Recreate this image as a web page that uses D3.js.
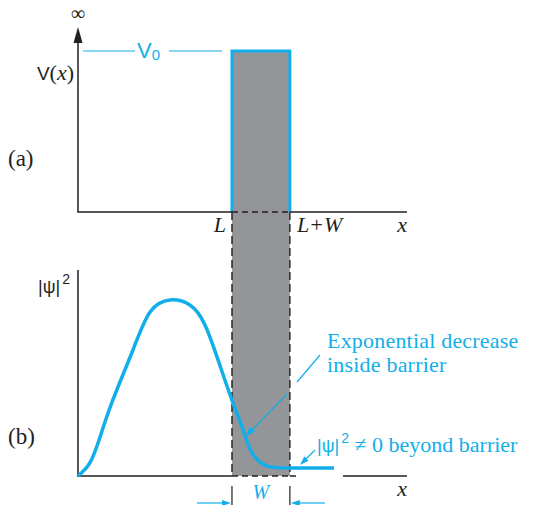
<!DOCTYPE html>
<html>
<head>
<meta charset="utf-8">
<script src="https://cdn.jsdelivr.net/npm/d3@7"></script>
<style>
  body { margin: 0; background: #fff; }
  .serif { font-family: "Liberation Serif", "Times New Roman", serif; }
  .sans { font-family: "Liberation Sans", Arial, sans-serif; }
</style>
</head>
<body>
<script>
// data, in x units of the axis (0..10) and relative heights (0..1)
var xDomain = [0, 10];
var barrierEdges = [4.68, 6.44];          // L, L+W
var V0 = 1;
var psiX = [0, 0.36, 0.67, 1.06, 1.67, 2.19, 2.80, 3.40, 3.86, 4.32, 4.71, 5.02, 5.29, 5.74, 6.44, 7.78];
var psiY = [0, 0.074, 0.222, 0.432, 0.716, 0.932, 1.00, 0.972, 0.858, 0.625, 0.415, 0.261, 0.131, 0.057, 0.045, 0.045];
var xTickLabels = ["L", "L+W", "x"];

var blue = "#12aee9", gray = "#939598", ink = "#231f20";

var svg = d3.select("body").append("svg")
    .attr("width", 537)
    .attr("height", 505);

var xScale = d3.scaleLinear().domain(xDomain).range([78, 407]);
var yTop = d3.scaleLinear().domain([0, 1]).range([212, 51]);
var yBot = d3.scaleLinear().domain([0, 1]).range([476, 300]);

var xL = xScale(barrierEdges[0]), xR = xScale(barrierEdges[1]);

//Barrier shading through both panels
svg.append("rect")
    .attr("x", xL).attr("y", yTop(V0))
    .attr("width", xR - xL)
    .attr("height", yBot(0) - yTop(V0))
    .attr("fill", gray);

//Blue outline of the barrier (left, top, right)
svg.append("path")
    .attr("d", "M" + xL + "," + yTop(0) + "V" + yTop(V0) + "H" + xR + "V" + yTop(0))
    .attr("fill", "none")
    .attr("stroke", blue)
    .attr("stroke-width", 3);

//Dashed barrier edges
svg.selectAll(".edge")
    .data(barrierEdges)
    .enter().append("line")
    .attr("class", "edge")
    .attr("x1", function(d) { return xScale(d); })
    .attr("x2", function(d) { return xScale(d); })
    .attr("y1", yTop(0))
    .attr("y2", yBot(0))
    .attr("stroke", ink)
    .attr("stroke-width", 1.4)
    .attr("stroke-dasharray", "8,4");

// ---- panel (a) ----
svg.append("line").attr("x1", 78).attr("x2", 78).attr("y1", 36).attr("y2", yTop(0))
    .attr("stroke", ink).attr("stroke-width", 1.5);
svg.append("path").attr("d", "M78,27L82.5,43L73.5,43Z").attr("fill", ink);
svg.append("line").attr("x1", 77.25).attr("x2", xL).attr("y1", yTop(0)).attr("y2", yTop(0))
    .attr("stroke", ink).attr("stroke-width", 1.5);
svg.append("line").attr("x1", xL).attr("x2", xR).attr("y1", yTop(0)).attr("y2", yTop(0))
    .attr("stroke", ink).attr("stroke-width", 1.5).attr("stroke-dasharray", "6,4");
svg.append("line").attr("x1", xR).attr("x2", xScale(10)).attr("y1", yTop(0)).attr("y2", yTop(0))
    .attr("stroke", ink).attr("stroke-width", 1.5);

svg.append("text").attr("class", "serif").attr("x", 78).attr("y", 20)
    .attr("text-anchor", "middle").attr("font-size", "20px").attr("fill", ink).text("\u221e");

//V0 level line
svg.append("line").attr("x1", 83).attr("x2", 135).attr("y1", yTop(V0)).attr("y2", yTop(V0))
    .attr("stroke", blue).attr("stroke-width", 1.2);
svg.append("line").attr("x1", 169).attr("x2", 222).attr("y1", yTop(V0)).attr("y2", yTop(V0))
    .attr("stroke", blue).attr("stroke-width", 1.2);
var v0 = svg.append("text").attr("class", "sans").attr("x", 137).attr("y", 58)
    .attr("fill", blue).attr("font-size", "22px");
v0.append("tspan").text("V");
v0.append("tspan").attr("font-size", "15px").attr("dy", 2).text("0");

var vx = svg.append("text").attr("x", 74).attr("y", 80).attr("text-anchor", "end")
    .attr("fill", ink).attr("font-size", "22px");
vx.append("tspan").attr("class", "sans").attr("font-size", "19px").text("V");
vx.append("tspan").attr("class", "serif").text("(");
vx.append("tspan").attr("class", "serif").attr("font-style", "italic").text("x");
vx.append("tspan").attr("class", "serif").text(")");

svg.append("text").attr("class", "serif").attr("x", 8).attr("y", 166)
    .attr("font-size", "23px").attr("fill", ink).text("(a)");

//x tick labels
var tickX = [xL - 6, xR + 7, xScale(10)];
var tickAnchor = ["end", "start", "end"];
svg.selectAll(".xlab")
    .data(xTickLabels)
    .enter().append("text")
    .attr("class", "serif xlab")
    .attr("x", function(d, i) { return tickX[i]; })
    .attr("y", 232)
    .attr("text-anchor", function(d, i) { return tickAnchor[i]; })
    .attr("font-size", "22px")
    .attr("font-style", "italic")
    .attr("fill", ink)
    .text(function(d) { return d; });

// ---- panel (b) ----
svg.append("line").attr("x1", 78).attr("x2", 78).attr("y1", 270).attr("y2", yBot(0))
    .attr("stroke", ink).attr("stroke-width", 1.5);
svg.append("line").attr("x1", 77.25).attr("x2", xL).attr("y1", yBot(0)).attr("y2", yBot(0))
    .attr("stroke", ink).attr("stroke-width", 1.5);
svg.append("line").attr("x1", xL).attr("x2", xR).attr("y1", yBot(0)).attr("y2", yBot(0))
    .attr("stroke", ink).attr("stroke-width", 1.5).attr("stroke-dasharray", "6,4");
svg.append("line").attr("x1", xR).attr("x2", 296).attr("y1", yBot(0)).attr("y2", yBot(0))
    .attr("stroke", ink).attr("stroke-width", 1.5);
svg.append("line").attr("x1", 343).attr("x2", xScale(10)).attr("y1", yBot(0)).attr("y2", yBot(0))
    .attr("stroke", ink).attr("stroke-width", 1.5);

svg.append("text").attr("class", "serif").attr("x", xScale(10)).attr("y", 496)
    .attr("text-anchor", "end").attr("font-size", "22px").attr("font-style", "italic")
    .attr("fill", ink).text("x");

var psiLab = svg.append("text").attr("class", "sans").attr("x", 38).attr("y", 293)
    .attr("fill", ink).attr("font-size", "18px");
psiLab.append("tspan").text("|\u03c8|");
psiLab.append("tspan").attr("font-size", "14px").attr("dy", -9).attr("dx", 2).text("2");

svg.append("text").attr("class", "serif").attr("x", 8).attr("y", 444)
    .attr("font-size", "23px").attr("fill", ink).text("(b)");

//Probability density curve
var psiData = psiX.map(function(x, i) { return {x: x, y: psiY[i]}; });
var line = d3.line()
    .x(function(d) { return xScale(d.x); })
    .y(function(d) { return yBot(d.y); })
    .curve(d3.curveNatural);
svg.append("path")
    .datum(psiData)
    .attr("d", line)
    .attr("fill", "none")
    .attr("stroke", blue)
    .attr("stroke-width", 3.5);

//Annotation arrows
function arrowHead(x1, y1, x2, y2, len, half) {
    var a = Math.atan2(y2 - y1, x2 - x1);
    var bx = x2 - len * Math.cos(a), by = y2 - len * Math.sin(a);
    var px = -Math.sin(a) * half, py = Math.cos(a) * half;
    svg.append("path")
        .attr("d", "M" + x2 + "," + y2 + "L" + (bx + px) + "," + (by + py) + "L" + (bx - px) + "," + (by - py) + "Z")
        .attr("fill", blue);
}
svg.append("line").attr("x1", 320).attr("y1", 355).attr("x2", 297).attr("y2", 382)
    .attr("stroke", blue).attr("stroke-width", 1.2);
svg.append("line").attr("x1", 287).attr("y1", 394).attr("x2", 251).attr("y2", 431)
    .attr("stroke", blue).attr("stroke-width", 1.2);
arrowHead(287, 394, 245, 437, 11, 3.5);

svg.append("line").attr("x1", 315).attr("y1", 450).attr("x2", 304).attr("y2", 461)
    .attr("stroke", blue).attr("stroke-width", 1.2);
arrowHead(315, 450, 300, 465, 9, 3);

var ann1 = svg.append("text").attr("class", "serif").attr("fill", blue)
    .attr("font-size", "22px").attr("letter-spacing", "0.2px");
ann1.append("tspan").attr("x", 327).attr("y", 348).text("Exponential decrease");
ann1.append("tspan").attr("x", 327).attr("y", 372).text("inside barrier");

var ann2 = svg.append("text").attr("x", 317).attr("y", 452).attr("fill", blue);
ann2.append("tspan").attr("class", "sans").attr("font-size", "18px").text("|\u03c8|");
ann2.append("tspan").attr("class", "sans").attr("font-size", "14px").attr("dy", -9).attr("dx", 2).text("2");
ann2.append("tspan").attr("class", "serif").attr("font-size", "22px").attr("dy", 9)
    .text(" \u2260 0 beyond barrier");

//Width marker
svg.selectAll(".wtick")
    .data(barrierEdges)
    .enter().append("line")
    .attr("class", "wtick")
    .attr("x1", function(d) { return xScale(d); })
    .attr("x2", function(d) { return xScale(d); })
    .attr("y1", 486).attr("y2", 505)
    .attr("stroke", ink).attr("stroke-width", 1.2);
svg.append("line").attr("x1", 197).attr("x2", xL - 6).attr("y1", 503).attr("y2", 503)
    .attr("stroke", blue).attr("stroke-width", 1.2);
arrowHead(197, 503, xL - 1, 503, 9, 3);
svg.append("line").attr("x1", 325).attr("x2", xR + 6).attr("y1", 503).attr("y2", 503)
    .attr("stroke", blue).attr("stroke-width", 1.2);
arrowHead(325, 503, xR + 1, 503, 9, 3);
svg.append("text").attr("class", "serif").attr("x", (xL + xR) / 2).attr("y", 499)
    .attr("text-anchor", "middle").attr("font-size", "20px").attr("font-style", "italic")
    .attr("fill", blue).text("W");
</script>
</body>
</html>
